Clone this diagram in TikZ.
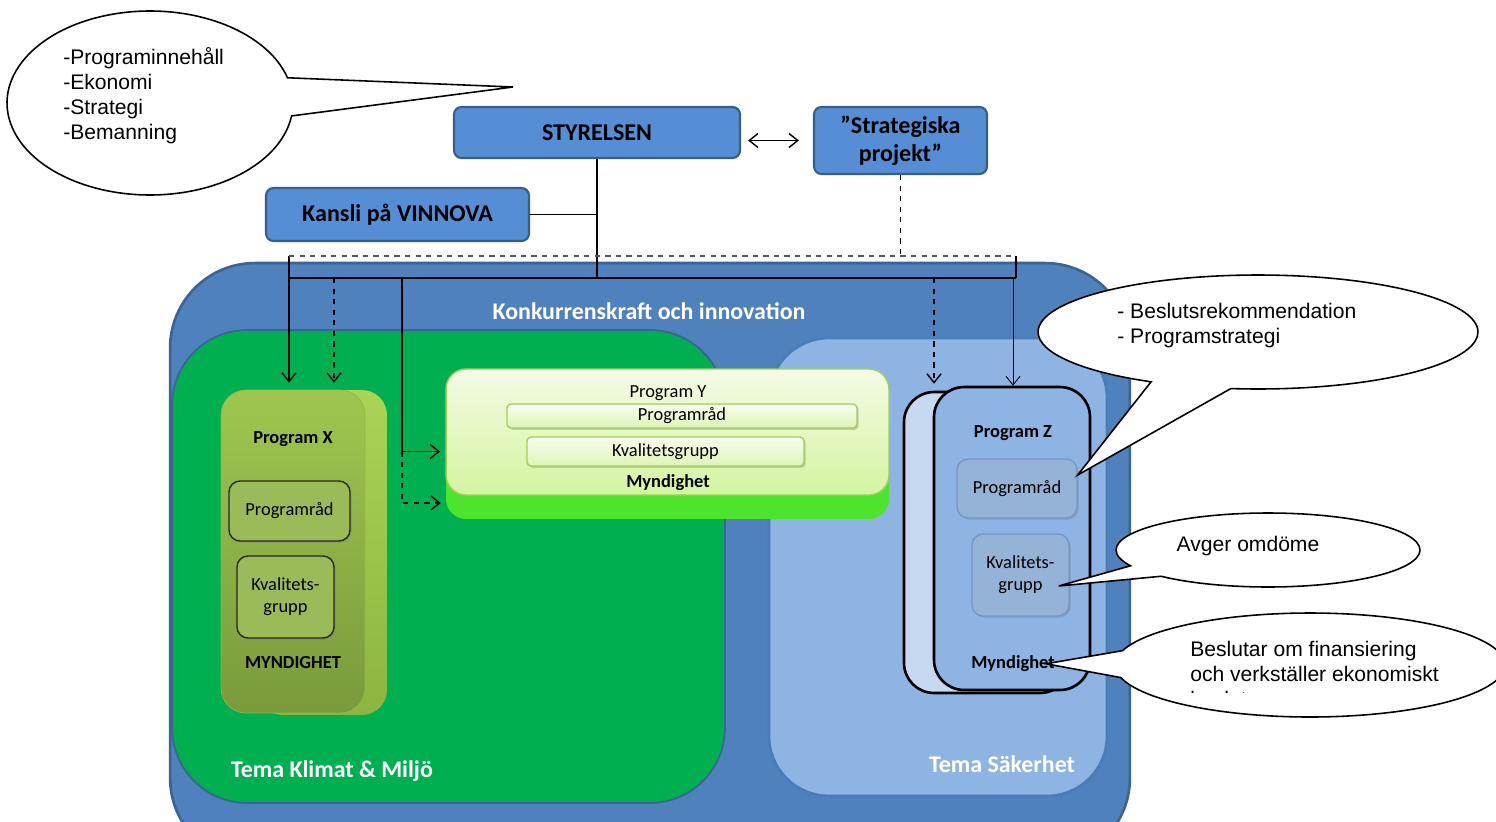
\documentclass[tikz,border=0pt]{standalone}
\usepackage{fontspec}
\setmainfont{Carlito}
\newfontfamily\notefont{Liberation Sans}
\usepackage{tikz}
\usetikzlibrary{shapes,shapes.callouts,arrows.meta,positioning,calc,shadows}

\definecolor{boardblue}{HTML}{558ED5}
\definecolor{boardline}{HTML}{385D8A}
\definecolor{konkblue}{HTML}{4F81BD}
\definecolor{konkline}{HTML}{3A6494}
\definecolor{klimatgreen}{HTML}{00B050}
\definecolor{sakblue}{HTML}{8EB4E3}
\definecolor{sakline}{HTML}{4A7CB8}
\definecolor{xlime}{HTML}{A9D456}
\definecolor{xlimedark}{HTML}{8DB53F}
\definecolor{xtop}{HTML}{9FC650}
\definecolor{xbottom}{HTML}{7A9A3B}
\definecolor{xedge}{HTML}{8FB84A}
\definecolor{xrad}{HTML}{9BBB59}
\definecolor{inkdark}{HTML}{262626}
\definecolor{ylime}{HTML}{4DE52B}
\definecolor{ytop}{HTML}{F4FBE5}
\definecolor{ybottom}{HTML}{D4F4A0}
\definecolor{yedge}{HTML}{A3CD5C}
\definecolor{bartop}{HTML}{F8FDEE}
\definecolor{barbottom}{HTML}{DDF4B6}
\definecolor{zbackfill}{HTML}{C6D9F1}
\definecolor{zbox}{HTML}{95B3D7}
\definecolor{zboxline}{HTML}{7597C6}
\definecolor{dashgray}{HTML}{555555}

\begin{document}
\begin{tikzpicture}[
    x=0.02cm, y=-0.02cm,
    board/.style={rectangle, rounded corners=0.15cm, draw=boardline, line width=1.2pt, fill=boardblue, align=center, inner sep=0pt, font=\fontsize{13.7}{16}\selectfont\bfseries},
    region/.style={rectangle, inner sep=0pt, line width=1.5pt},
    regiontitle/.style={text=white, font=\fontsize{13.6}{16}\selectfont\bfseries},
    progback/.style={rectangle, inner sep=0pt, rounded corners=0.5cm},
    inbox/.style={rectangle, rounded corners=0.22cm, align=center, inner sep=0pt, font=\fontsize{10.5}{12.5}\selectfont, drop shadow={shadow xshift=1pt, shadow yshift=-1pt, opacity=0.35}},
    txt/.style={yshift=-1pt, font=\fontsize{10.5}{12.5}\selectfont},
    heading/.style={yshift=-1pt, font=\fontsize{10.5}{12.5}\selectfont\bfseries},
    bubble/.style={ellipse callout, draw=black, fill=white, line width=0.9pt, inner sep=0pt},
    note/.style={font=\notefont\fontsize{12}{14.2}\selectfont, align=left, inner sep=0pt},
    link/.style={line width=0.8pt},
    arrow/.style={link, -{Straight Barb[length=5pt,width=8pt]}}
]
    \useasboundingbox (0,0) rectangle (1496,821);
    \clip (0,0) rectangle (1496,821);
    \fill[white] (0,0) rectangle (1496,821);

    % Board level
    \node[board, minimum width=5.72cm, minimum height=1.02cm] (sty) at (597,132.5) {STYRELSEN};
    \node[board, minimum width=3.46cm, minimum height=1.34cm] (strat) at (900.5,140.5) {”Strategiska\\projekt”};
    \node[board, minimum width=5.26cm, minimum height=1.06cm] (kansli) at (397.5,214.5) {Kansli på VINNOVA};

    % Regions
    \node[region, rounded corners=1.7cm, draw=konkline, fill=konkblue, minimum width=19.2cm, minimum height=12cm] (konk) at (650,563) {};
    \node[region, rounded corners=1.5cm, draw=konkline, line width=1pt, fill=klimatgreen, minimum width=11.06cm, minimum height=9.46cm] (klimat) at (448.5,566.5) {};
    \node[region, rounded corners=1.2cm, draw=sakline, fill=sakblue, minimum width=6.76cm, minimum height=9.16cm] (saker) at (938,567) {};
    \node[regiontitle] (konktitle) at (649,311) {Konkurrenskraft och innovation};
    \node[regiontitle] (klimattitle) at (332,771) {Tema Klimat \& Miljö};
    \node[regiontitle] (sakertitle) at (1002,764) {Tema Säkerhet};

    % Program X
    \node[progback, top color=xlime, bottom color=xlimedark, minimum width=2.58cm, minimum height=6.5cm] (xback) at (322.5,552.5) {};
    \node[progback, top color=xtop, bottom color=xbottom, draw=xedge, minimum width=2.88cm, minimum height=6.46cm] (xfront) at (293,551.5) {};
    \node[heading] (xname) at (293,437) {Program X};
    \node[inbox, fill=xrad, draw=inkdark, line width=0.8pt, minimum width=2.42cm, minimum height=1.2cm] (xrad) at (289.5,511) {Programråd};
    \node[inbox, fill=xrad, draw=inkdark, line width=0.8pt, minimum width=1.94cm, minimum height=1.64cm] (xkval) at (285.5,597) {Kvalitets-\\grupp};
    \node[heading] (xmyn) at (293,661) {MYNDIGHET};

    % Program Y
    \node[progback, rounded corners=0.4cm, fill=ylime, minimum width=8.86cm, minimum height=2.98cm] (yback) at (667.5,444.5) {};
    \node[progback, rounded corners=0.4cm, top color=ytop, bottom color=ybottom, draw=yedge, line width=0.8pt, minimum width=8.86cm, minimum height=2.52cm] (yfront) at (667.5,432) {};
    \node[txt] (yname) at (668,391) {Program Y};
    \node[inbox, rounded corners=0.08cm, top color=bartop, bottom color=barbottom, draw=yedge, line width=0.8pt, minimum width=7cm, minimum height=0.48cm] (yrad) at (682,416) {Programråd};
    \node[inbox, rounded corners=0.08cm, top color=bartop, bottom color=barbottom, draw=yedge, line width=0.8pt, minimum width=5.54cm, minimum height=0.58cm] (ykval) at (665.5,451.5) {Kvalitetsgrupp};
    \node[heading] (ymyn) at (668,481) {Myndighet};

    % Program Z
    \node[progback, rounded corners=0.6cm, fill=zbackfill, draw=black, line width=1.5pt, minimum width=3.32cm, minimum height=6.02cm] (zback) at (987,542.5) {};
    \node[progback, rounded corners=0.6cm, fill=sakblue, draw=black, line width=1.5pt, minimum width=3.12cm, minimum height=6.06cm] (zfront) at (1012,538.5) {};
    \node[heading] (zname) at (1013,431) {Program Z};
    \node[inbox, fill=zbox, draw=zboxline, line width=0.8pt, minimum width=2.4cm, minimum height=1.18cm] (zrad) at (1017,488.5) {Programråd};
    \node[inbox, fill=zbox, draw=zboxline, line width=0.8pt, minimum width=1.94cm, minimum height=1.64cm] (zkval) at (1020.5,575) {Kvalitets-\\grupp};
    \node[heading] (zmyn) at (1013,662) {Myndighet};

    % Bus lines
    \coordinate (busL) at (289,278);
    \coordinate (busR) at (1016,278);
    \coordinate (dashL) at (289,256);
    \coordinate (dashR) at (1016,256);
    \coordinate (tapA) at (334,278);
    \coordinate (tapB) at (402,278);
    \coordinate (tapC) at (934,278);
    \coordinate (tapD) at (1013,278);
    \coordinate (ylow) at (446,503);

    \draw[link] (sty.south) -- (sty.south |- busL);
    \draw[link] (kansli.east) -- (kansli.east -| sty.south);
    \draw[link] (busL) -- (busR);
    \draw[link] (dashL) -- (busL);
    \draw[link] (dashR) -- (busR);
    \draw[link, dashed, draw=dashgray] (dashL) -- (dashR);
    \draw[link, dashed] (strat.south) -- (strat.south |- dashR);
    \draw[link, {Straight Barb[length=5pt,width=8pt]}-{Straight Barb[length=5pt,width=8pt]}, shorten <=4pt, shorten >=8pt] (sty.east |- strat.west) -- (strat.west);

    % Arrows to the programmes
    \draw[arrow, shorten >=4pt] (busL) -- (busL |- xfront.north);
    \draw[arrow, dashed, shorten >=4pt] (tapA) -- (tapA |- xfront.north);
    \draw[arrow, shorten >=3pt] (tapB) |- (ykval -| yfront.west);
    \draw[arrow, dashed, shorten >=3pt] (tapB |- ykval) |- (ylow);
    \draw[arrow, dashed, shorten >=4pt] (tapC) -- (tapC |- zback.north);
    \draw[arrow, line width=0.5pt] (tapD) -- (tapD |- zfront.north);

    % Callouts
    \coordinate (tipA) at (513,87);
    \node[bubble, minimum width=5.72cm, minimum height=3.68cm, callout absolute pointer={(tipA)}, callout pointer arc=24] (callA) at (150,103) {};
    \node[note, anchor=north west] (noteA) at (63,47) {-Programinnehåll\\-Ekonomi\\-Strategi\\-Bemanning};

    \node[bubble, minimum width=8.8cm, minimum height=2.28cm, callout absolute pointer={([yshift=0.27cm]zrad.east)}, callout pointer arc=22] (callB) at (1258,332) {};
    \node[note, anchor=north west] (noteB) at (1117,303) {- Beslutsrekommendation\\- Programstrategi};

    \node[bubble, minimum width=6.08cm, minimum height=1.48cm, callout absolute pointer={([xshift=-0.22cm,yshift=-0.22cm]zkval.east)}, callout pointer arc=20] (callC) at (1268,550) {};
    \node[note] (noteC) at (1248,546) {Avger omdöme};

    \node[bubble, minimum width=7.8cm, minimum height=2.08cm, callout absolute pointer={([xshift=-0.3cm]zmyn.east)}, callout pointer arc=30] (callD) at (1310,665) {};
    \begin{scope}
        \clip (1100,600) rectangle (1496,692);
        \node[note, anchor=north west] (noteD) at (1190,641) {Beslutar om finansiering\\och verkställer ekonomiskt\\beslut};
    \end{scope}
\end{tikzpicture}
\end{document}
